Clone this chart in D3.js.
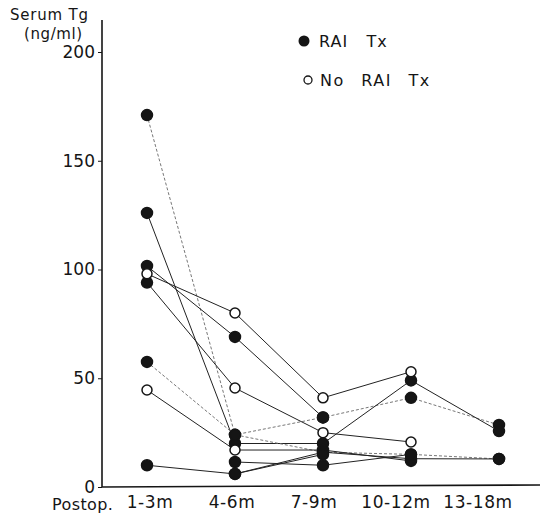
<!DOCTYPE html>
<html>
<head>
<meta charset="utf-8">
<script src="https://cdn.jsdelivr.net/npm/d3@7"></script>
<style>
  body { margin: 0; background: #fff; }
  svg { font-family: 'DejaVu Sans', sans-serif; }
</style>
</head>
<body>
<svg id="chart" width="548" height="516"></svg>
<script>
// categories along the bottom
const periods = ['1-3m', '4-6m', '7-9m', '10-12m', '13-18m'];
const yTicks = [0, 50, 100, 150, 200];

// one row per patient, value per period (null = not measured)
const tgValues = [
  [171, 24, 32, 41, 28.5],
  [126, 20, 20, 49, 25.7],
  [101.6, 69, 32, null, null],
  [94, 45.5, 25, 20.7, null],
  [98, 80, 41, 53, null],
  [57.5, 24, 16, 15, 12.9],
  [44.6, 17, 17, 12, null],
  [10, 6, 16, 13, 12.9],
  [null, 11.5, 10, 15, null],
  [null, 6, 15, null, null],
];
// marker per point: f = RAI Tx (filled), o = no RAI Tx (open)
const tgMarks = [
  'fffff',
  'fffff',
  'fffff',
  'fooo-',
  'oooo-',
  'fffff',
  'oofff',
  'fffff',
  '-fff-',
  '-ff--',
];
// faint (dotted in the print) connecting lines
const faintLines = [true, false, false, false, false, true, false, false, false, false];

const svg = d3.select('#chart');
const ink = '#151515';

const x = d3.scalePoint().domain(periods).range([147, 499]);
const xLabel = d3.scalePoint().domain(periods).range([150, 478]);
const y = d3.scaleLinear().domain([0, 200]).range([487, 52]);

// y axis
const yAxis = svg.append('g')
    .attr('transform', 'translate(102,0)')
    .call(d3.axisLeft(y).tickValues(yTicks).tickSize(4).tickPadding(3).tickFormat(d3.format('d')));
yAxis.select('.domain').remove();
yAxis.selectAll('line').attr('stroke', ink);
yAxis.selectAll('text')
    .attr('font-size', 17)
    .attr('fill', ink)
    .attr('font-family', "'DejaVu Sans', sans-serif");
svg.append('line')
    .attr('x1', 102).attr('x2', 102)
    .attr('y1', 20).attr('y2', y(0))
    .attr('stroke', ink).attr('stroke-width', 1.6);
svg.append('line')
    .attr('x1', 102).attr('x2', 540)
    .attr('y1', y(0)).attr('y2', y(0) - 2)
    .attr('stroke', ink).attr('stroke-width', 1.6);

// axis titles
svg.append('text').attr('x', 10).attr('y', 20).attr('font-size', 15)
    .attr('letter-spacing', 0.8).attr('fill', ink).text('Serum Tg');
svg.append('text').attr('x', 24).attr('y', 39).attr('font-size', 15)
    .attr('letter-spacing', 0.6).attr('fill', ink).text('(ng/ml)');

// x labels
svg.append('text').attr('x', 52).attr('y', 510).attr('font-size', 16)
    .attr('letter-spacing', 0.4).attr('fill', ink).text('Postop.');
svg.selectAll('.xlab').data(periods).join('text')
    .attr('class', 'xlab')
    .attr('x', d => xLabel(d))
    .attr('y', 508)
    .attr('text-anchor', 'middle')
    .attr('font-size', 17)
    .attr('letter-spacing', 0.6)
    .attr('fill', ink)
    .text(d => d);

// connecting lines
const line = d3.line()
    .defined(d => d.v !== null)
    .x(d => x(d.p))
    .y(d => y(d.v));
const rows = tgValues.map((vals, i) => vals.map((v, j) => ({ v, p: periods[j], m: tgMarks[i][j], row: i })));

svg.append('g').selectAll('path').data(rows).join('path')
    .attr('d', d => line(d))
    .attr('fill', 'none')
    .attr('stroke', (d, i) => faintLines[i] ? '#777' : '#222')
    .attr('stroke-dasharray', (d, i) => faintLines[i] ? '3,2' : null)
    .attr('stroke-width', 1);

// markers
const pts = rows.flat().filter(d => d.v !== null);
svg.append('g').selectAll('circle').data(pts).join('circle')
    .attr('cx', d => x(d.p))
    .attr('cy', d => y(d.v))
    .attr('r', d => d.m === 'f' ? 5.5 : 5)
    .attr('fill', d => d.m === 'f' ? ink : '#fff')
    .attr('stroke', ink)
    .attr('stroke-width', 1.5);

// legend
const legend = svg.append('g');
legend.append('circle').attr('cx', 304).attr('cy', 41).attr('r', 5.5).attr('fill', ink);
legend.append('text').attr('x', 319).attr('y', 47).attr('font-size', 16).attr('fill', ink)
    .attr('letter-spacing', 1).attr('xml:space', 'preserve').text('RAI   Tx');
legend.append('circle').attr('cx', 308).attr('cy', 80).attr('r', 4).attr('fill', '#fff')
    .attr('stroke', ink).attr('stroke-width', 1.3);
legend.append('text').attr('x', 320).attr('y', 86).attr('font-size', 16).attr('fill', ink)
    .attr('letter-spacing', 1.5).attr('word-spacing', 10).attr('xml:space', 'preserve').text('No RAI Tx');
</script>
</body>
</html>
